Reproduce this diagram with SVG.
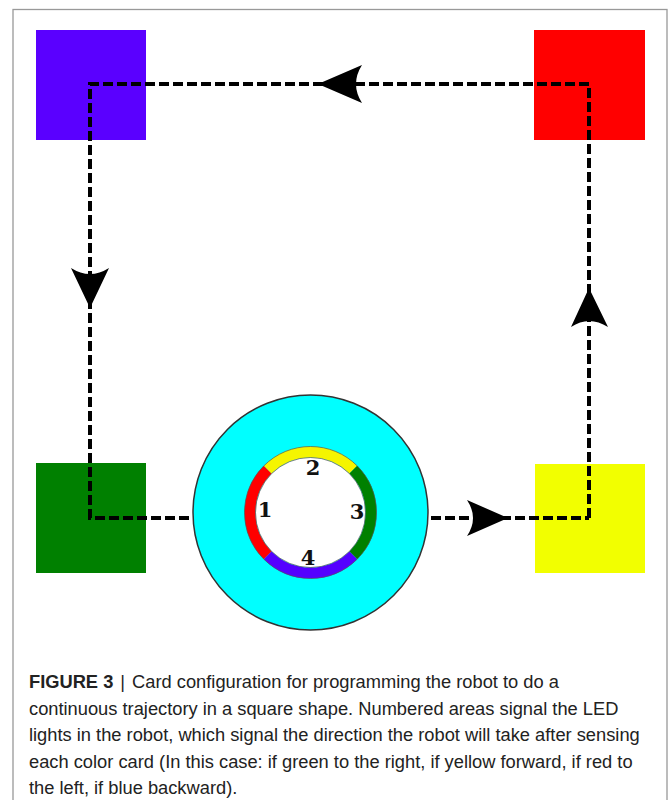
<svg xmlns="http://www.w3.org/2000/svg" width="670" height="800" viewBox="0 0 670 800">
<style>
.path{fill:none;stroke:#000;stroke-width:4;stroke-dasharray:10 4;stroke-linejoin:miter}
.arrow{fill:#000;stroke:none}
.num{font-family:"DejaVu Serif","Liberation Serif",serif;font-weight:bold;font-size:21px;fill:#111;text-anchor:middle}
.cap{font-family:"Liberation Sans",Arial,sans-serif;font-size:18.3px;fill:#222}
.ring{fill:none;stroke-width:11}
</style>
<rect x="0" y="0" width="670" height="800" fill="#fff"/>
<rect x="13" y="9.5" width="654" height="800" fill="#fff" stroke="#999" stroke-width="1.3"/>
<g id="card-blue"><rect x="36" y="30" width="110" height="110" fill="#5a00ff"/></g>
<g id="card-red"><rect x="534" y="30" width="111" height="110" fill="#ff0000"/></g>
<g id="card-green"><rect x="36" y="463" width="110" height="110" fill="#008000"/></g>
<g id="card-yellow"><rect x="535" y="464" width="110" height="109" fill="#f2ff00"/></g>
<g id="connectors">
<path class="path" d="M589,518 L589,84 L90,84 L90,518 L589,518"/>
<path class="arrow" d="M318,84 L362,65 Q350,84 362,103 Z"/>
<path class="arrow" d="M90,308 L71,268 Q90,280 109,268 Z"/>
<path class="arrow" d="M589,288 L571,327 Q589,315 608,327 Z"/>
<path class="arrow" d="M508,518 L467,500 Q479,518 467,536 Z"/>
</g>
<g id="robot">
<circle cx="310.5" cy="512.5" r="117.5" fill="#00ffff" stroke="#333" stroke-width="1.5"/>
<circle cx="310.5" cy="512.5" r="55" fill="#fff"/>
<path class="ring" stroke="#ff0000" d="M267.7,555.3 A60.5,60.5 0 0 1 267.7,469.7"/>
<path class="ring" stroke="#f5f500" d="M267.7,469.7 A60.5,60.5 0 0 1 353.3,469.7"/>
<path class="ring" stroke="#008000" d="M353.3,469.7 A60.5,60.5 0 0 1 353.3,555.3"/>
<path class="ring" stroke="#5500ff" d="M353.3,555.3 A60.5,60.5 0 0 1 267.7,555.3"/>
<circle cx="310.5" cy="512.5" r="66" fill="none" stroke="#555" stroke-width="0.7"/>
<circle cx="310.5" cy="512.5" r="55" fill="none" stroke="#555" stroke-width="0.7"/>
<text class="num" x="313" y="475">2</text>
<text class="num" x="265" y="517">1</text>
<text class="num" x="357" y="519">3</text>
<text class="num" x="308" y="565">4</text>
</g>
<g id="caption">
<text class="cap" x="29" y="688"><tspan font-weight="bold">FIGURE 3</tspan><tspan dx="7">|</tspan><tspan dx="7">Card configuration for programming the robot to do a</tspan></text>
<text class="cap" x="29" y="714.5">continuous trajectory in a square shape. Numbered areas signal the LED</text>
<text class="cap" x="29" y="741">lights in the robot, which signal the direction the robot will take after sensing</text>
<text class="cap" x="29" y="767.5">each color card (In this case: if green to the right, if yellow forward, if red to</text>
<text class="cap" x="29" y="794">the left, if blue backward).</text>
</g>
</svg>
